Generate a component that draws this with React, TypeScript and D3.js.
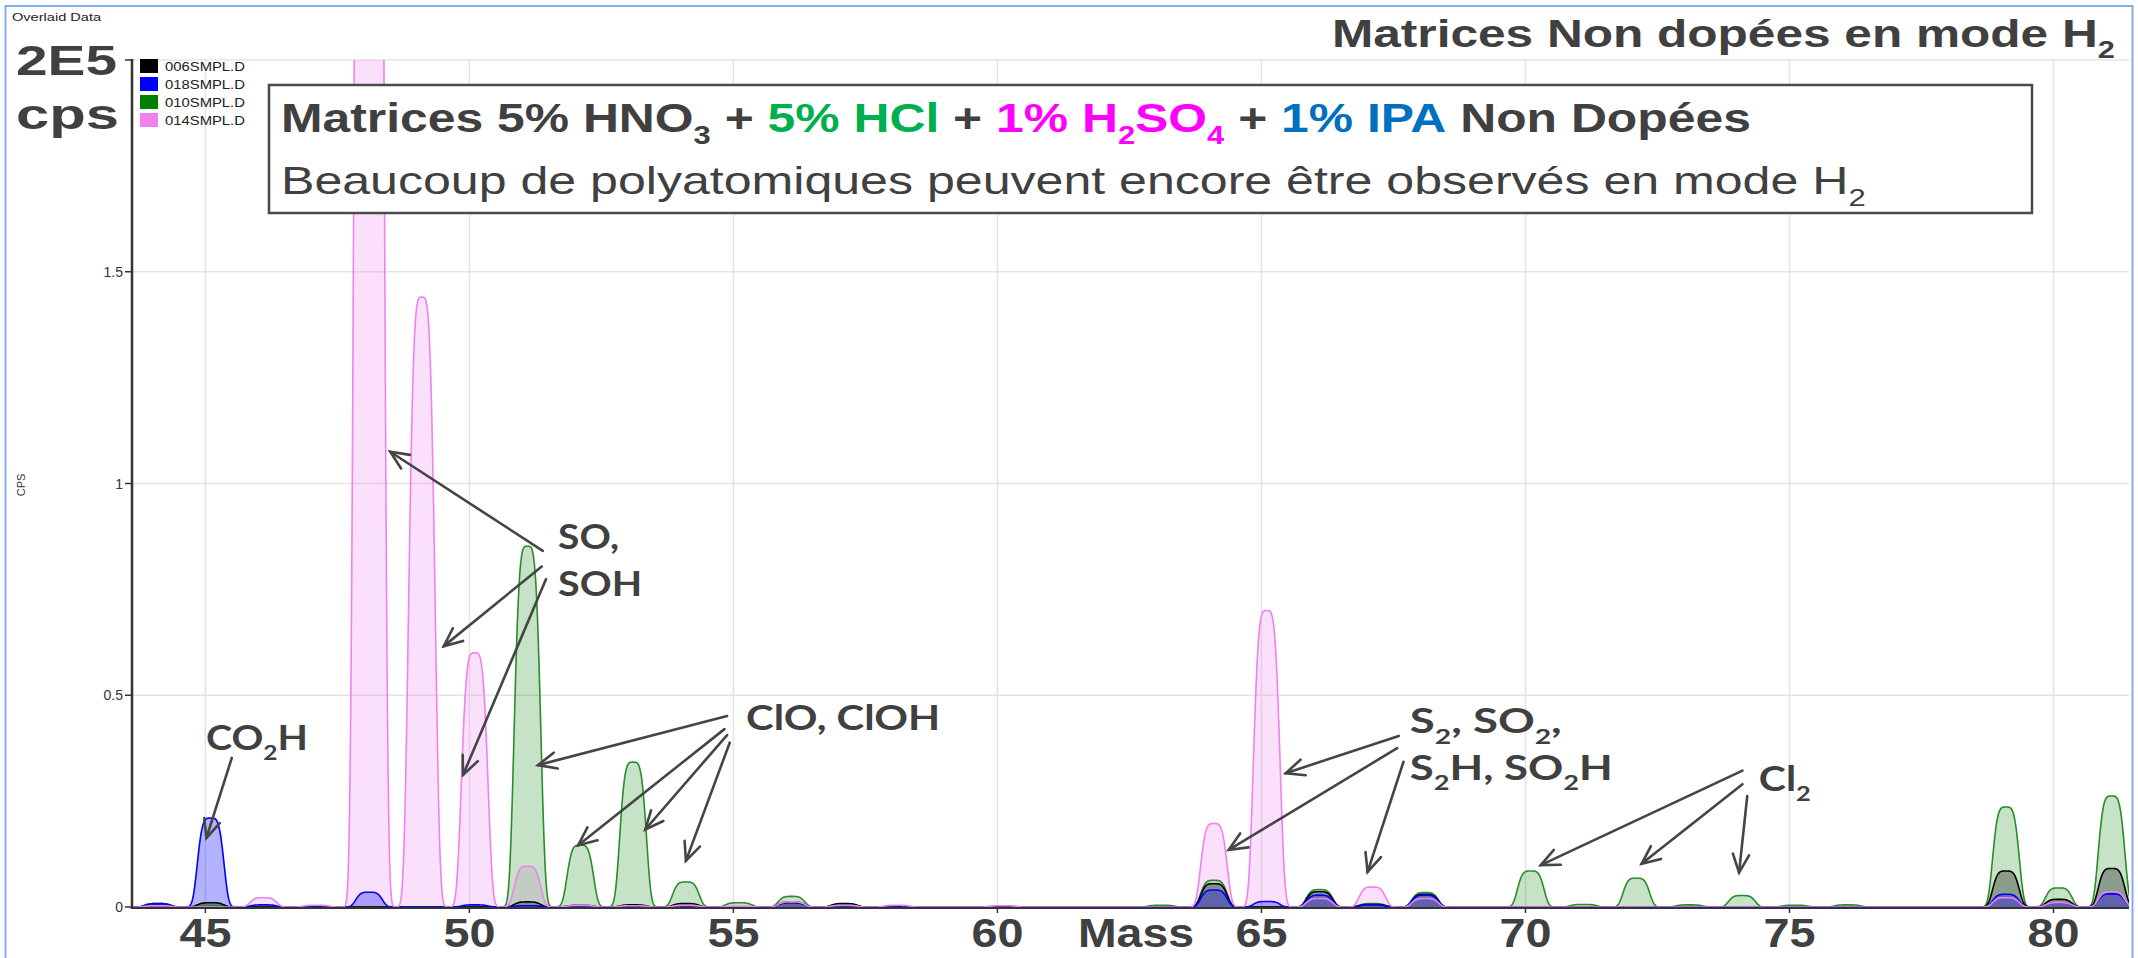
import React, { useEffect, useRef } from "react";
import * as d3 from "d3";

// Nominal masses (amu) and peak intensities in units of 1E5 cps for each run
const MASSES = [
  44, 45, 46, 47, 48, 49, 50, 51, 52, 53, 54, 55, 56, 57, 58, 59, 60, 61, 62,
  63, 64, 65, 66, 67, 68, 69, 70, 71, 72, 73, 74, 75, 76, 77, 78, 79, 80, 81,
];

// 006SMPL.D
const S006 = [
  0.004, 0.01, 0, 0, 0, 0, 0, 0.012, 0.004, 0.005, 0.008, 0, 0.01, 0.008, 0, 0, 0, 0, 0,
  0, 0.055, 0, 0.036, 0.006, 0.03, 0, 0, 0, 0, 0, 0, 0, 0, 0, 0, 0.085, 0.018, 0.091,
];
// 018SMPL.D
const S018 = [
  0.008, 0.21, 0.005, 0, 0.035, 0, 0.005, 0.003, 0.003, 0, 0, 0, 0.012, 0, 0, 0, 0, 0, 0,
  0, 0.04, 0.013, 0.028, 0.005, 0.028, 0, 0, 0, 0, 0, 0, 0, 0, 0, 0, 0.03, 0.01, 0.031,
];
// 010SMPL.D
const S010 = [
  0.008, 0.004, 0, 0, 0, 0, 0, 0.852, 0.146, 0.342, 0.059, 0.01, 0.025, 0.006, 0, 0, 0.002, 0, 0,
  0.004, 0.063, 0, 0.041, 0.008, 0.034, 0, 0.085, 0.006, 0.068, 0.005, 0.027, 0.004, 0.005, 0, 0, 0.236, 0.045, 0.262,
];
// 014SMPL.D
const S014 = [
  0.003, 0, 0.022, 0.004, 6.0, 1.44, 0.6, 0.096, 0.004, 0.003, 0.004, 0.002, 0.012, 0.004, 0.004, 0, 0.003, 0, 0,
  0, 0.197, 0.7, 0.02, 0.047, 0.02, 0, 0, 0, 0, 0, 0, 0, 0, 0, 0, 0.022, 0.01, 0.036,
];

const LEGEND_NAMES = ["006SMPL.D", "018SMPL.D", "010SMPL.D", "014SMPL.D"];
const LEGEND_COLORS = ["#000000", "#0000ff", "#008000", "#ee82ee"];

const Y_TICKS = [0, 0.5, 1, 1.5];
const Y_TICK_LABELS = ["0", "0.5", "1", "1.5"];
const X_TICKS = [45, 50, 55, 60, 65, 70, 75, 80];

type Part = { t: string; sub?: boolean; color?: string };

// Peak labels, anchored in data space (mass, 1E5 cps)
const LABELS: { parts: Part[]; mass: number; value: number; width: number }[] = [
  { parts: [{ t: "CO" }, { t: "2", sub: true }, { t: "H" }], mass: 45.01, value: 0.371, width: 102 },
  { parts: [{ t: "SO," }], mass: 51.68, value: 0.845, width: 61 },
  { parts: [{ t: "SOH" }], mass: 51.68, value: 0.734, width: 84 },
  { parts: [{ t: "ClO, ClOH" }], mass: 55.24, value: 0.418, width: 194 },
  {
    parts: [{ t: "S" }, { t: "2", sub: true }, { t: ", SO" }, { t: "2", sub: true }, { t: "," }],
    mass: 67.81, value: 0.41, width: 152,
  },
  {
    parts: [{ t: "S" }, { t: "2", sub: true }, { t: "H, SO" }, { t: "2", sub: true }, { t: "H" }],
    mass: 67.81, value: 0.301, width: 203,
  },
  { parts: [{ t: "Cl" }, { t: "2", sub: true }], mass: 74.42, value: 0.275, width: 52 },
];

// Arrows from label to peak: [tail mass, tail value, tip mass, tip value]
const ARROWS = [
  [45.5, 0.352, 45.02, 0.163],
  [51.39, 0.841, 48.5, 1.075],
  [51.37, 0.804, 49.515, 0.616],
  [51.45, 0.774, 49.88, 0.312],
  [54.88, 0.451, 51.3, 0.335],
  [54.83, 0.42, 52.06, 0.146],
  [54.88, 0.406, 53.33, 0.183],
  [54.93, 0.388, 54.1, 0.109],
  [67.6, 0.404, 65.46, 0.316],
  [67.57, 0.375, 64.38, 0.135],
  [67.69, 0.343, 67.01, 0.083],
  [74.11, 0.322, 70.29, 0.099],
  [74.11, 0.29, 72.2, 0.102],
  [74.2, 0.262, 74.045, 0.081],
];

const TITLE_PARTS: Part[] = [{ t: "Matrices Non dopées en mode H" }, { t: "2", sub: true }];
const BOX_LINE1: Part[] = [
  { t: "Matrices 5% HNO" },
  { t: "3", sub: true },
  { t: " + " },
  { t: "5% HCl", color: "#00b050" },
  { t: " + " },
  { t: "1% H", color: "#ff00ff" },
  { t: "2", sub: true, color: "#ff00ff" },
  { t: "SO", color: "#ff00ff" },
  { t: "4", sub: true, color: "#ff00ff" },
  { t: " + " },
  { t: "1% IPA", color: "#0070c0" },
  { t: " Non Dopées" },
];
const BOX_LINE2: Part[] = [
  { t: "Beaucoup de polyatomiques peuvent encore être observés en mode H" },
  { t: "2", sub: true },
];

const W = 2138;
const H = 958;
const TEXT = "#404040";
const SANS = "'Liberation Sans', Arial, sans-serif";
const PEAK_SHIFT = 0.1;
const PEAK_WIDTH = 0.275;

function profile(values: number[], m: number) {
  let s = 0;
  for (let i = 0; i < MASSES.length; i++) {
    const v = values[i];
    if (!v) continue;
    const d = (m - MASSES[i] - PEAK_SHIFT) / PEAK_WIDTH;
    if (Math.abs(d) > 4) continue;
    s += v * Math.exp(-(d * d * d * d));
  }
  return s;
}

export default function App() {
  const ref = useRef<SVGSVGElement>(null);

  useEffect(() => {
    const svg = d3.select(ref.current);
    svg.selectAll("*").remove();
    const fits: (() => void)[] = [];

    const fit = (sel: any, x0: number, target: number) => {
      const run = () => {
        const w = sel.node().getBBox().width;
        if (w > 0) sel.attr("transform", `translate(${x0} 0) scale(${target / w} 1) translate(${-x0} 0)`);
      };
      fits.push(run);
    };

    const rich = (g: any, x: number, y: number, fs: number, parts: Part[], weight: string, family: string) => {
      const text = g
        .append("text")
        .attr("x", x)
        .attr("y", y)
        .style("font-size", `${fs}px`)
        .style("font-weight", weight)
        .style("font-family", family)
        .attr("fill", TEXT);
      let shifted = false;
      const shift = fs * 0.3;
      for (const p of parts) {
        const ts = text.append("tspan").text(p.t).attr("fill", p.color || TEXT);
        if (p.sub) {
          ts.style("font-size", `${fs * 0.62}px`);
          if (!shifted) {
            ts.attr("dy", shift);
            shifted = true;
          }
        } else if (shifted) {
          ts.attr("dy", -shift);
          shifted = false;
        }
      }
      return text;
    };

    const x = d3.scaleLinear().domain([43.61, 81.43]).range([132, 2129]);
    const y = d3.scaleLinear().domain([0, 2]).range([907, 60]);
    const [x0, x1] = x.range();
    const [yb, yt] = y.range();

    svg.append("rect").attr("width", W).attr("height", H).attr("fill", "#ffffff");

    // outer window frame
    svg
      .append("path")
      .attr("d", `M5.5,${H + 5} V6 H2132.5 V${H + 5}`)
      .attr("fill", "none")
      .attr("stroke", "#86aee6")
      .attr("stroke-width", 2);

    const od = svg
      .append("text")
      .attr("x", 12)
      .attr("y", 21)
      .style("font-family", SANS)
      .style("font-size", "11px")
      .attr("fill", "#222")
      .text("Overlaid Data");
    fit(od, 12, 90);

    // grid
    const grid = svg.append("g").attr("stroke", "#e4e4e4").attr("stroke-width", 1.5);
    [0.5, 1, 1.5, 2].forEach((v) =>
      grid.append("line").attr("x1", x0).attr("x2", x1).attr("y1", y(v)).attr("y2", y(v))
    );
    X_TICKS.forEach((m) =>
      grid.append("line").attr("x1", x(m)).attr("x2", x(m)).attr("y1", yt).attr("y2", yb)
    );

    // spectra
    svg
      .append("defs")
      .append("clipPath")
      .attr("id", "plot-clip")
      .append("rect")
      .attr("x", x0)
      .attr("y", yt)
      .attr("width", x1 - x0)
      .attr("height", yb - yt + 2);

    const masses = d3.range(43.6, 81.45, 0.01);
    const series = [S006, S018, S010, S014].map((vals, i) => ({
      color: LEGEND_COLORS[i],
      pts: masses.map((m) => [m, profile(vals, m)] as [number, number]),
    }));
    const area = d3
      .area<[number, number]>()
      .x((d) => x(d[0]))
      .y0(yb)
      .y1((d) => y(Math.min(d[1], 2.2)));
    const line = d3
      .line<[number, number]>()
      .x((d) => x(d[0]))
      .y((d) => y(Math.min(d[1], 2.2)));

    const plot = svg.append("g").attr("clip-path", "url(#plot-clip)");
    const fillOpacity = [0.3, 0.3, 0.22, 0.25];
    const strokeColor = ["#000000", "#0000ff", "#2a8c2a", "#ee82ee"];
    const fillOrder = [3, 2, 0, 1];
    const strokeOrder = [2, 0, 1, 3];
    fillOrder.forEach((i) =>
      plot
        .append("path")
        .attr("d", area(series[i].pts))
        .attr("fill", series[i].color)
        .attr("fill-opacity", fillOpacity[i])
    );
    // x axis baseline under the traces' baselines
    svg
      .append("line")
      .attr("x1", x0)
      .attr("x2", x1)
      .attr("y1", yb + 1)
      .attr("y2", yb + 1)
      .attr("stroke", "#333")
      .attr("stroke-width", 2);
    strokeOrder.forEach((i) =>
      plot
        .append("path")
        .attr("d", line(series[i].pts))
        .attr("fill", "none")
        .attr("stroke", strokeColor[i])
        .attr("stroke-width", 1.6)
    );

    // y axis
    svg
      .append("line")
      .attr("x1", x0)
      .attr("x2", x0)
      .attr("y1", yt - 1)
      .attr("y2", yb + 2)
      .attr("stroke", "#333")
      .attr("stroke-width", 2.5);
    [...Y_TICKS, 2].forEach((v) =>
      svg
        .append("line")
        .attr("x1", x0 - 7)
        .attr("x2", x0)
        .attr("y1", y(v))
        .attr("y2", y(v))
        .attr("stroke", "#333")
        .attr("stroke-width", 1.5)
    );
    Y_TICKS.forEach((v, i) =>
      svg
        .append("text")
        .attr("x", x0 - 9)
        .attr("y", y(v) + 5)
        .attr("text-anchor", "end")
        .style("font-family", SANS)
        .style("font-size", "14px")
        .attr("fill", "#333")
        .text(Y_TICK_LABELS[i])
    );
    svg
      .append("text")
      .attr("transform", "translate(25,485) rotate(-90)")
      .attr("text-anchor", "middle")
      .style("font-family", SANS)
      .style("font-size", "11px")
      .attr("fill", "#333")
      .text("CPS");

    // x ticks and labels
    X_TICKS.forEach((m) => {
      svg
        .append("line")
        .attr("x1", x(m))
        .attr("x2", x(m))
        .attr("y1", yb + 1)
        .attr("y2", yb + 6)
        .attr("stroke", "#333")
        .attr("stroke-width", 1.5);
      const t = svg
        .append("text")
        .attr("x", x(m))
        .attr("y", 947)
        .attr("text-anchor", "middle")
        .style("font-family", SANS)
        .style("font-size", "40px")
        .style("font-weight", "bold")
        .attr("fill", TEXT)
        .text(String(m));
      fit(t, x(m), 52);
    });
    const mass = svg
      .append("text")
      .attr("x", 1078)
      .attr("y", 947)
      .style("font-family", SANS)
      .style("font-size", "40px")
      .style("font-weight", "bold")
      .attr("fill", TEXT)
      .text("Mass");
    fit(mass, 1078, 116);

    // scale unit labels
    const big = (txt: string, yy: number, w: number) => {
      const t = svg
        .append("text")
        .attr("x", 16)
        .attr("y", yy)
        .style("font-family", SANS)
        .style("font-size", "42px")
        .style("font-weight", "bold")
        .attr("fill", TEXT)
        .text(txt);
      fit(t, 16, w);
    };
    big("2E5", 75, 101);
    big("cps", 129, 103);

    // legend
    LEGEND_NAMES.forEach((name, i) => {
      const top = 59 + i * 18;
      svg
        .append("rect")
        .attr("x", 140)
        .attr("y", top)
        .attr("width", 18)
        .attr("height", 14)
        .attr("fill", LEGEND_COLORS[i]);
      const t = svg
        .append("text")
        .attr("x", 165)
        .attr("y", top + 12)
        .style("font-family", SANS)
        .style("font-size", "13px")
        .attr("fill", "#222")
        .text(name);
      fit(t, 165, 80);
    });

    // top-right title
    const title = rich(svg, 1332, 47, 38, TITLE_PARTS, "bold", SANS);
    fit(title, 1332, 783);

    // description box
    svg
      .append("rect")
      .attr("x", 269)
      .attr("y", 85)
      .attr("width", 1763)
      .attr("height", 128)
      .attr("fill", "#ffffff")
      .attr("stroke", "#4a4a4a")
      .attr("stroke-width", 2.5);
    const l1 = rich(svg, 281, 132, 41, BOX_LINE1, "bold", SANS);
    fit(l1, 281, 1470);
    const l2 = rich(svg, 281, 194, 39, BOX_LINE2, "normal", SANS);
    fit(l2, 281, 1585);

    // annotation arrows
    const arrows = svg
      .append("g")
      .attr("stroke", "#454545")
      .attr("stroke-width", 2.6)
      .attr("stroke-linecap", "round")
      .attr("fill", "none");
    ARROWS.forEach(([m0, v0, m1, v1]) => {
      const ax = x(m0), ay = y(v0), bx = x(m1), by = y(v1);
      const ang = Math.atan2(ay - by, ax - bx);
      const len = 20, spread = 0.42;
      arrows.append("line").attr("x1", ax).attr("y1", ay).attr("x2", bx).attr("y2", by);
      arrows
        .append("path")
        .attr(
          "d",
          `M${bx + len * Math.cos(ang + spread)},${by + len * Math.sin(ang + spread)} L${bx},${by} L${
            bx + len * Math.cos(ang - spread)
          },${by + len * Math.sin(ang - spread)}`
        );
    });

    // annotation labels
    LABELS.forEach((lb) => {
      const t = rich(svg, x(lb.mass), y(lb.value), 34, lb.parts, "bold", "Lato, 'Open Sans', sans-serif");
      fit(t, x(lb.mass), lb.width);
    });

    fits.forEach((f) => f());
    if ((document as any).fonts && (document as any).fonts.ready) {
      (document as any).fonts.ready.then(() => fits.forEach((f) => f()));
    }
  }, []);

  return (
    <svg
      ref={ref}
      width={W}
      height={H}
      viewBox={`0 0 ${W} ${H}`}
      style={{ position: "absolute", left: 0, top: 0, display: "block" }}
    />
  );
}
